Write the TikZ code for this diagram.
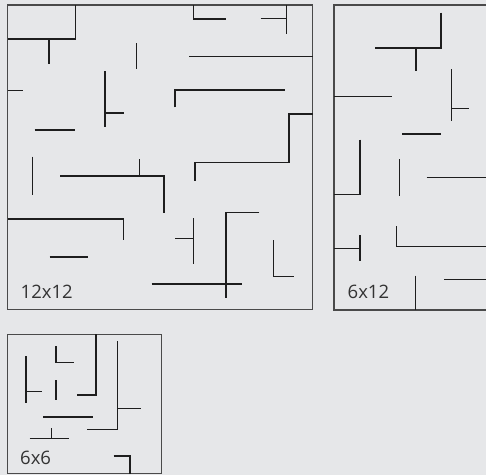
\documentclass[tikz,border=0pt]{standalone}
\usepackage{fontspec}
\setmainfont{Open Sans}
\definecolor{bgc}{HTML}{E6E7E9}
\definecolor{wallc}{HTML}{1E1E1E}
\definecolor{borderc}{HTML}{4A4A4A}
\definecolor{textc}{HTML}{333333}
\begin{document}
\begin{tikzpicture}[x=1pt,y=-1pt,
  wall/.style={draw=wallc,line width=1.25pt},
  border/.style={draw=borderc,line width=1.4pt},
  lbl/.style={anchor=base west,inner sep=0pt,text=textc,font=\fontsize{18.5pt}{20pt}\selectfont}]
\fill[bgc] (0,0) rectangle (486,475);
\useasboundingbox (0,0) rectangle (486,475);
% ---------- 12x12 ----------
\draw[border] (7.7,5) rectangle (312.5,309.3);
\draw[wall] (75.3,5)--(75.3,39)--(7.7,39);
\draw[wall] (49,39)--(49,63.7);
\draw[wall] (136.3,43.3)--(136.3,69);
\draw[wall] (7.7,90.7)--(23.3,90.7);
\draw[wall] (105,71.3)--(105,126.7);
\draw[wall] (105,113)--(123.7,113);
\draw[wall] (34.7,130)--(75.3,130);
\draw[wall] (32.3,156.7)--(32.3,195);
\draw[wall] (60.3,176)--(164,176)--(164,212.7);
\draw[wall] (139.7,159)--(139.7,176);
\draw[wall] (193.3,5)--(193.3,19)--(226,19);
\draw[wall] (286.3,5)--(286.3,34.3);
\draw[wall] (260.7,18.7)--(286.3,18.7);
\draw[wall] (189.3,56.3)--(312.5,56.3);
\draw[wall] (175,107.3)--(175,90)--(284.7,90);
\draw[wall] (312.5,114)--(289,114)--(289,162.3)--(195,162.3)--(195,181.3);
\draw[wall] (7.7,219)--(123.3,219)--(123.3,240);
\draw[wall] (49.7,257)--(87.7,257);
\draw[wall] (193.3,218.3)--(193.3,264);
\draw[wall] (175.3,238.3)--(193.3,238.3);
\draw[wall] (259.3,212.3)--(226,212.3)--(226,298.3);
\draw[wall] (151.7,284)--(241.7,284);
\draw[wall] (273.7,240)--(273.7,276.7)--(293.7,276.7);
\node[lbl] (l1) at (20.5,298.3) {12x12};
% ---------- 6x12 ----------
\draw[border] (487,5)--(334,5)--(334,310)--(487,310);
\draw[wall] (441,12.7)--(441,48)--(374.7,48);
\draw[wall] (416,48)--(416,71);
\draw[wall] (334,96.7)--(391.7,96.7);
\draw[wall] (451.3,69.3)--(451.3,121.3);
\draw[wall] (451.3,108.3)--(468.7,108.3);
\draw[wall] (402.3,134)--(440.7,134);
\draw[wall] (360,139.7)--(360,194.7)--(334,194.7);
\draw[wall] (399.7,159.3)--(399.7,195.7);
\draw[wall] (426.7,177.7)--(487,177.7);
\draw[wall] (396.7,226)--(396.7,246.7)--(487,246.7);
\draw[wall] (334,248.7)--(360,248.7);
\draw[wall] (360,235)--(360,261);
\draw[wall] (415.7,275.7)--(415.7,310);
\draw[wall] (444,279.7)--(487,279.7);
\node[lbl] (l2) at (347.5,298.3) {6x12};
% ---------- 6x6 ----------
\draw[border] (7.7,334.3) rectangle (161.3,473.7);
\draw[wall] (26,356)--(26,403.3);
\draw[wall] (26,391.7)--(41.7,391.7);
\draw[wall] (56,346)--(56,362.7)--(74,362.7);
\draw[wall] (56,380)--(56,400.3);
\draw[wall] (96,334.3)--(96,395)--(77.3,395);
\draw[wall] (117.7,341)--(117.7,429.7)--(86.7,429.7);
\draw[wall] (117.7,408.7)--(140.7,408.7);
\draw[wall] (43.3,417)--(92.7,417);
\draw[wall] (29.7,438.3)--(68.7,438.3);
\draw[wall] (51.7,428)--(51.7,438.3);
\draw[wall] (113.7,456)--(130,456)--(130,473.7);
\node[lbl] (l3) at (20,464.3) {6x6};
\end{tikzpicture}
\end{document}
